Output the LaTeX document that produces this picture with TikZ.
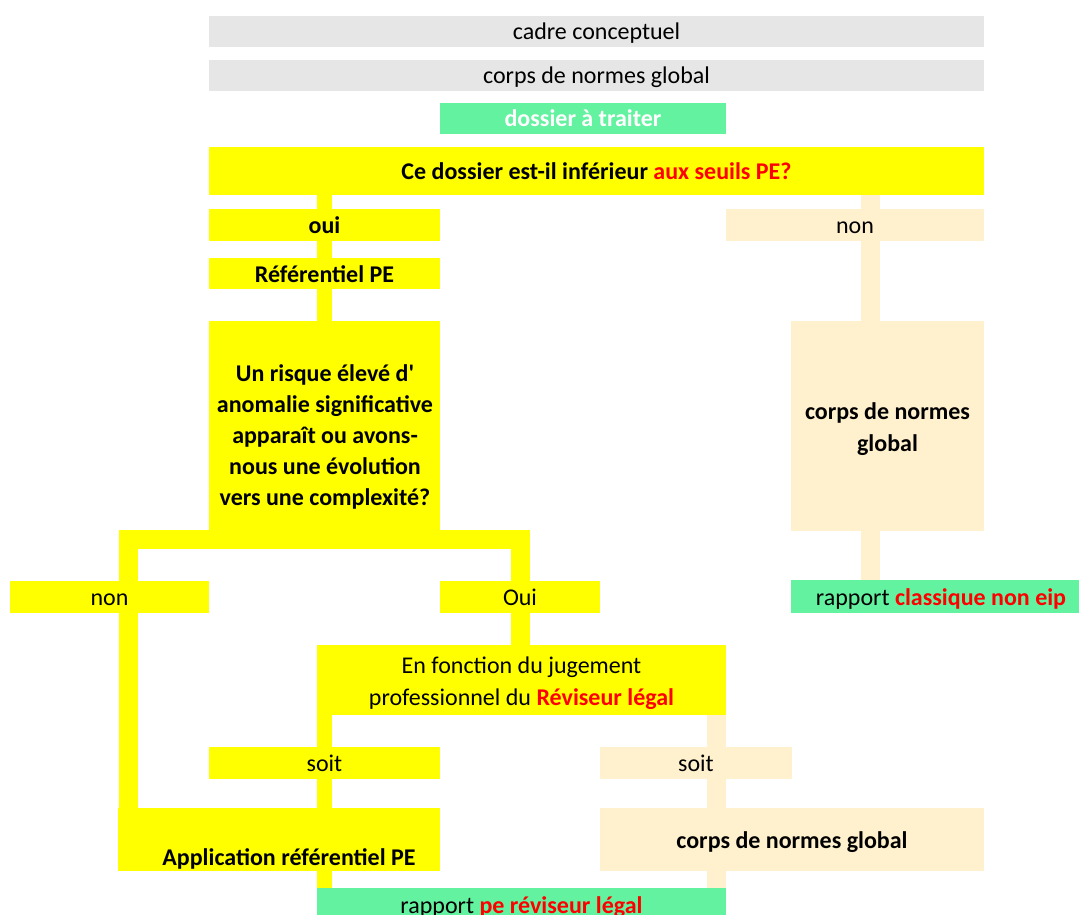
\documentclass[tikz,border=0pt]{standalone}
\usepackage{fontspec}
\setmainfont{Carlito}
\usetikzlibrary{backgrounds}
\definecolor{ylw}{RGB}{255,255,0}
\definecolor{crm}{RGB}{255,241,205}
\definecolor{grn}{RGB}{99,242,160}
\definecolor{gry}{RGB}{230,230,230}
\definecolor{rd}{RGB}{255,0,0}
\begin{document}
\begin{tikzpicture}[x=1pt,y=-1pt,
  box/.style={inner sep=0pt, outer sep=0pt, font=\fontsize{24}{31}\selectfont, align=center, text height=23pt, text depth=6pt},
  bbox/.style={box, font=\fontsize{24}{31}\selectfont\bfseries},
  mbox/.style={inner sep=0pt, outer sep=0pt, align=center},
  lbl/.style={inner sep=0pt, outer sep=0pt, font=\fontsize{24}{31}\selectfont, align=center, text height=23pt, text depth=6pt},
  yconn/.style={draw=ylw, line width=15.5},
  cconn/.style={draw=crm, line width=19}]
\useasboundingbox (0,0) rectangle (1079,915);
\clip (0,0) rectangle (1079,915);
% boxes
\node[box, fill=gry, minimum width=775, minimum height=31] (cadre) at (596.5,31.5) {cadre conceptuel};
\node[box, fill=gry, minimum width=775, minimum height=31] (corpsg) at (596.5,75.5) {corps de normes global};
\node[bbox, fill=grn, text=white, minimum width=286, minimum height=31] (dossier) at (583,118.5) {dossier à traiter};
\node[bbox, fill=ylw, minimum width=775, minimum height=48] (q) at (596.5,171) {Ce dossier est-il inférieur \textcolor{rd}{aux seuils PE?}};
\node[bbox, fill=ylw, minimum width=231, minimum height=32] (oui) at (324.5,225) {oui};
\node[box, fill=crm, minimum width=258, minimum height=32] (nonR) at (855,225) {non};
\node[bbox, fill=ylw, minimum width=231, minimum height=31] (ref) at (324.5,273.5) {Référentiel PE};
\node[mbox, fill=ylw, minimum width=231, minimum height=209] (risk) at (324.5,425.5) {};
\node[mbox, font=\fontsize{24}{31}\selectfont\bfseries] (risktxt) at (325,437) {Un risque élevé d\textquotesingle\\anomalie significative\\apparaît ou avons-\\nous une évolution\\vers une complexité?};
\node[mbox, fill=crm, minimum width=193, minimum height=210, font=\fontsize{24}{32}\selectfont\bfseries] (crpR) at (887.5,426) {};
\node[mbox, font=\fontsize{24}{32}\selectfont\bfseries] (crpRtxt) at (887.5,429) {corps de normes\\global};
\node[box, fill=ylw, minimum width=199, minimum height=32] (nonL) at (109.5,597) {non};
\node[box, fill=ylw, minimum width=160, minimum height=32] (ouiB) at (520,597) {Oui};
\node[box, fill=grn, minimum width=288, minimum height=33] (rapC) at (935,596.5) {};
\node[lbl] (rapCtxt) at (941,596.5) {rapport \textcolor{rd}{\bfseries classique non eip}};
\node[mbox, fill=ylw, minimum width=409, minimum height=70] (fonc) at (521.5,680) {};
\node[mbox, font=\fontsize{24}{32}\selectfont] (fonctxt) at (521.5,683) {En fonction du jugement\\professionnel du \textcolor{rd}{\bfseries Réviseur légal}};
\node[box, fill=ylw, minimum width=231, minimum height=32] (soitY) at (324.5,763) {soit};
\node[box, fill=crm, minimum width=192, minimum height=32] (soitC) at (696,763) {soit};
\node[box, fill=ylw, minimum width=322, minimum height=63] (app) at (279,839.5) {};
\node[lbl, font=\fontsize{24}{31}\selectfont\bfseries] (apptxt) at (289,857) {Application référentiel PE};
\node[bbox, fill=crm, minimum width=384, minimum height=63] (crp2) at (792,839.5) {corps de normes global};
\node[box, fill=grn, minimum width=409, minimum height=34] (rapP) at (521.5,905) {rapport \textcolor{rd}{\bfseries pe réviseur légal}};
\coordinate (bl) at (128,539);
\coordinate (br) at (520,539);
\coordinate (cx1) at (870,0);
\coordinate (cx2) at (716.5,0);
% connectors
\begin{scope}[on background layer]
\fill[white] (0,0) rectangle (1079,915);
\draw[yconn] (q.south -| oui) -- (oui.north);
\draw[yconn] (oui.south) -- (ref.north);
\draw[yconn] (ref.south) -- (risk.north);
\draw[draw=ylw, line width=19] (app.north -| bl) -- (bl) -- (br) -- (fonc.north -| br);
\draw[yconn] (fonc.south -| soitY) -- (soitY.north);
\draw[yconn] (soitY.south) -- (app.north -| soitY);
\draw[yconn] (app.south -| soitY) -- (rapP.north -| soitY);
\draw[cconn] (q.south -| cx1) -- (nonR.north -| cx1);
\draw[cconn] (nonR.south -| cx1) -- (crpR.north -| cx1);
\draw[cconn] (crpR.south -| cx1) -- (rapC.north -| cx1);
\draw[cconn] (fonc.south -| cx2) -- (soitC.north -| cx2);
\draw[cconn] (soitC.south -| cx2) -- (crp2.north -| cx2);
\draw[cconn] (crp2.south -| cx2) -- (rapP.north -| cx2);
\end{scope}
\end{tikzpicture}
\end{document}
